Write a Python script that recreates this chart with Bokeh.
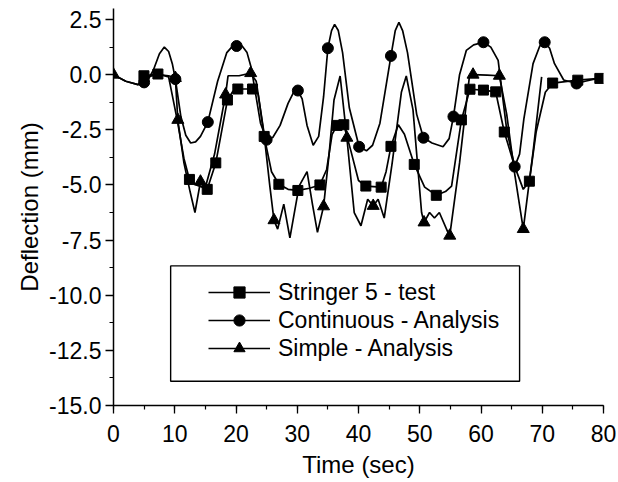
from bokeh.plotting import figure
from bokeh.models import (Range1d, SingleIntervalTicker, PrintfTickFormatter,
                          Legend, LegendItem, BoxAnnotation)
from bokeh.embed import file_html
from bokeh.resources import INLINE

FONT = "Liberation Sans"

# ---- data ----
cont_t = [0, 2, 4, 5.5, 6.5, 7.5, 8.3, 9.0, 9.6, 10.1, 11.0, 11.8, 12.6, 13.4, 14.2, 15.4, 17,
          18.5, 19.3, 20.1, 21.0, 21.8, 22.5, 24, 25, 26.0, 27.2, 28.5, 29.4, 30.1, 30.8, 31.6,
          32.6, 33.5, 34.3, 35, 35.6, 36.1, 36.7, 37.4, 38.5, 40.1, 41.3, 42.3, 43.5, 45.3, 46.0,
          46.6, 47.2, 48, 49.5, 50.6, 52, 53.8, 54.8, 55.5, 56.5, 57.6, 58.8, 60.4, 61.6, 62.8,
          64.2, 65.5, 66.3, 67, 68.5, 69.6, 70.4, 71.2, 72.0, 73.5, 75.6, 77, 79.4]
cont_v = [0.0, -0.3, -0.45, -0.3, 0.2, 0.95, 1.25, 1.05, 0.5, -0.2, -1.9, -2.75, -3.1, -3.05,
          -2.8, -2.15, -0.3, 1.0, 1.25, 1.3, 1.3, 1.0, 0.3, -2.2, -2.95, -2.85, -2.3, -1.3, -0.8,
          -0.72, -1.1, -2.3, -3.2, -2.8, -1.0, 1.2, 2.0, 2.28, 2.0, 1.0, -1.5, -3.27, -3.45,
          -3.2, -2.2, 0.85, 2.0, 2.37, 2.0, 1.0, -1.8, -2.86, -3.1, -3.27, -2.9, -1.9, 0.0, 1.1,
          1.35, 1.47, 1.25, 0.65, -2.5, -4.17, -3.6, -2.0, 0.5, 1.3, 1.47, 1.2, 0.5, -0.24, -0.4,
          -0.3, -0.15]
cont_mark_t = [5, 10.1, 15.4, 20.1, 25, 30.1, 35, 40.1, 45.3, 50.6, 55.5, 60.4, 65.5, 70.4, 75.6]
cont_mark_v = [-0.35, -0.2, -2.15, 1.3, -2.95, -0.72, 1.2, -3.27, 0.85, -2.86, -1.9, 1.47, -4.17,
               1.47, -0.4]

test_t = [4.97, 7.25, 9.0, 10.4, 11.5, 12.4, 13.5, 14.5, 15.3, 16.7, 18.6, 19.5, 20.3, 22.7, 23.6,
          24.6, 25.8, 27.0, 28.5, 30.1, 32, 33.7, 34.8, 35.7, 36.5, 37.6, 38.8, 40.0, 41.2, 43.7,
          44.5, 45.3, 46.5, 47.5, 49.1, 50.8, 52.7, 54.2, 55.2, 56.8, 58.2, 60.4, 62.4, 63.8,
          65.5, 66.9, 67.9, 69.0, 70.5, 71.7, 75.8, 79.4]
test_v = [-0.05, 0.03, -0.1, -2.05, -3.8, -4.75, -5.0, -5.1, -5.2, -4.0, -1.15, -0.75, -0.65,
          -0.65, -0.85, -2.8, -4.4, -4.97, -5.2, -5.25, -5.15, -5.0, -4.3, -2.7, -2.3, -2.27,
          -3.5, -4.8, -5.05, -5.1, -4.4, -3.25, -2.27, -2.7, -4.07, -5.1, -5.47, -5.3, -5.05,
          -2.05, -0.66, -0.7, -0.78, -2.6, -4.16, -5.2, -4.83, -2.6, -0.8, -0.38, -0.25, -0.17]
test_mark_t = [4.97, 7.25, 12.4, 15.3, 16.7, 18.6, 20.3, 22.7, 24.6, 27.0, 30.1, 33.7, 36.5,
               37.6, 41.2, 43.7, 45.3, 49.1, 52.7, 56.8, 58.2, 60.4, 62.4, 63.8, 67.9, 71.7,
               75.8, 79.4]
test_mark_v = [-0.05, 0.03, -4.75, -5.2, -4.0, -1.15, -0.65, -0.65, -2.8, -4.97, -5.25, -5.0,
               -2.3, -2.27, -5.05, -5.1, -3.25, -4.07, -5.47, -2.05, -0.66, -0.7, -0.78, -2.6,
               -4.83, -0.38, -0.25, -0.17]

simp_t = [0, 2, 4, 5.5, 7.2, 9.0, 10.1, 10.5, 11.5, 12.5, 13.3, 14.2, 15.0, 16.5, 18.3, 18.7,
          20.5, 22.4, 23.3, 24.5, 25.5, 26.2, 26.8, 27.8, 28.8, 30.3, 31.6, 32.5, 33.3, 34.3,
          35.2, 36.0, 37.0, 38.1, 39.3, 40.4, 41.5, 42.4, 43.2, 44.2, 45.5, 47.0, 47.8, 48.9,
          50.3, 50.7, 51.6, 52.4, 53.2, 54.6, 54.9, 56.5, 58.1, 58.7, 61.0, 63.0, 64.2, 65.5,
          66.9, 68.5, 69.9]
simp_v = [0.0, -0.3, -0.45, -0.1, 0.0, -0.05, -0.15, -2.05, -4.0, -5.3, -6.25, -4.85, -5.1,
          -3.6, -0.9, -0.05, -0.05, 0.07, -0.3, -2.5, -5.0, -6.6, -7.0, -5.87, -7.4, -5.05, -4.4,
          -5.9, -7.15, -5.97, -3.6, -1.15, -0.06, -2.86, -6.25, -6.85, -5.65, -5.95, -5.65,
          -6.5, -4.0, -0.8, -0.06, -1.6, -6.25, -6.7, -6.25, -6.5, -6.25, -7.15, -7.3, -4.0,
          -0.1, 0.0, -0.02, -0.05, -1.8, -4.5, -7.0, -3.5, -0.1]
simp_mark_t = [0, 10.1, 10.5, 14.2, 18.3, 22.4, 26.2, 34.3, 38.1, 42.4, 50.7, 54.9, 58.7, 63.0,
               66.9]
simp_mark_v = [0.0, -0.15, -2.05, -4.85, -0.9, 0.07, -6.6, -5.97, -2.86, -5.95, -6.7, -7.3, 0.0,
               -0.05, -7.0]

labels = ["Stringer 5 - test", "Continuous - Analysis", "Simple - Analysis"]
x_title = "Time (sec)"
y_title = "Deflection (mm)"

# ---- figure ----
p = figure(width=616, height=480, output_backend="svg", toolbar_location=None,
           x_range=Range1d(0, 80), y_range=Range1d(-15, 3),
           min_border_left=113, min_border_right=13, min_border_top=8, min_border_bottom=72)
p.outline_line_color = None
p.xgrid.visible = False
p.ygrid.visible = False
p.background_fill_color = "white"
p.border_fill_color = "white"

lw = 1.7
col = "black"
r_test_l = p.line(test_t, test_v, line_color=col, line_width=lw)
r_test_m = p.scatter(test_mark_t, test_mark_v, marker="square", size=10, color=col)
r_cont_l = p.line(cont_t, cont_v, line_color=col, line_width=lw)
r_cont_m = p.scatter(cont_mark_t, cont_mark_v, marker="circle", size=11, color=col)
r_simp_l = p.line(simp_t, simp_v, line_color=col, line_width=lw)
r_simp_m = p.scatter(simp_mark_t, simp_mark_v, marker="triangle", size=12, color=col)

for ax, ticker in ((p.xaxis[0], SingleIntervalTicker(interval=10, num_minor_ticks=2)),
                   (p.yaxis[0], SingleIntervalTicker(interval=2.5, num_minor_ticks=2))):
    ax.ticker = ticker
    ax.axis_line_color = col
    ax.axis_line_width = 1.5
    ax.major_tick_line_color = col
    ax.minor_tick_line_color = col
    ax.major_tick_line_width = 1.3
    ax.minor_tick_line_width = 1.2
    ax.major_tick_in = 0
    ax.major_tick_out = 8
    ax.minor_tick_in = 0
    ax.minor_tick_out = 4
    ax.major_label_text_font = FONT
    ax.major_label_text_font_size = "23px"
    ax.major_label_text_color = col
    ax.axis_label_text_font = FONT
    ax.axis_label_text_font_style = "normal"
    ax.axis_label_text_color = col

p.yaxis[0].formatter = PrintfTickFormatter(format="%.1f")
p.yaxis[0].axis_label = y_title
p.yaxis[0].axis_label_text_font_size = "24px"
p.yaxis[0].major_label_standoff = 4
p.yaxis[0].axis_label_standoff = 3
p.xaxis[0].axis_label = x_title
p.xaxis[0].axis_label_text_font_size = "24px"
p.xaxis[0].major_label_standoff = 11
p.xaxis[0].axis_label_standoff = 6

box = BoxAnnotation(left=9.33, right=66.3, top=-8.67, bottom=-13.9,
                    fill_alpha=0, line_color=col, line_alpha=1.0, line_width=1.4)
p.add_layout(box)

legend = Legend(items=[LegendItem(label=labels[0], renderers=[r_test_l, r_test_m]),
                       LegendItem(label=labels[1], renderers=[r_cont_l, r_cont_m]),
                       LegendItem(label=labels[2], renderers=[r_simp_l, r_simp_m])],
                location=(95, 43), padding=0, margin=0, spacing=0,
                glyph_width=62, glyph_height=28, label_height=28, label_standoff=8,
                label_text_font=FONT, label_text_font_size="23px", label_text_color=col,
                border_line_alpha=0, background_fill_alpha=0)
p.add_layout(legend)

open("out.html", "w").write(file_html(p, INLINE))
